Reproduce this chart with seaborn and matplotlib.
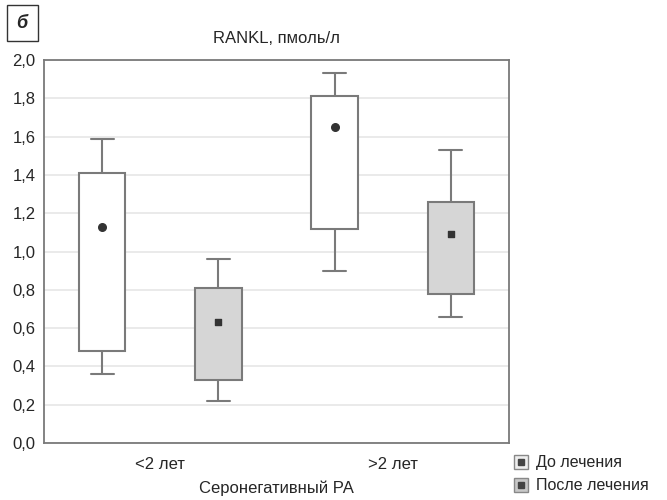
import matplotlib
matplotlib.use("Agg")
import matplotlib.pyplot as plt
import seaborn as sns
import numpy as np
import pandas as pd
from matplotlib.lines import Line2D

# values (pmol/l)
groups = ["<2 лет", ">2 лет"]
treatments = ["До лечения", "После лечения"]
whisker_low = {"До лечения": [0.36, 0.90], "После лечения": [0.22, 0.66]}
box_low = {"До лечения": [0.48, 1.12], "После лечения": [0.33, 0.78]}
center = {"До лечения": [1.13, 1.65], "После лечения": [0.63, 1.09]}
box_high = {"До лечения": [1.41, 1.81], "После лечения": [0.81, 1.26]}
whisker_high = {"До лечения": [1.59, 1.93], "После лечения": [0.96, 1.53]}
y_ticks = [0.0, 0.2, 0.4, 0.6, 0.8, 1.0, 1.2, 1.4, 1.6, 1.8, 2.0]
y_ticklabels = ["0,0", "0,2", "0,4", "0,6", "0,8", "1,0", "1,2", "1,4", "1,6", "1,8", "2,0"]

# 5 points per box -> quartiles / median / min / max reproduce the summary
rows = []
for t in treatments:
    for i, g in enumerate(groups):
        for v in (whisker_low[t][i], box_low[t][i], center[t][i], box_high[t][i], whisker_high[t][i]):
            rows.append({"group": g, "treatment": t, "value": v})
df = pd.DataFrame(rows)

sns.set_style("white")
plt.rcParams["font.family"] = ["Liberation Sans", "DejaVu Sans"]

fig = plt.figure(figsize=(6.67, 5), dpi=100)
ax = fig.add_axes([0.066, 0.114, 0.697, 0.766])

edge = "#7a7a7a"
sns.boxplot(data=df, x="group", y="value", hue="treatment", order=groups, hue_order=treatments,
            palette={"До лечения": "white", "После лечения": "#d6d6d6"},
            whis=(0, 100), width=1.0, gap=0.6, linecolor=edge, linewidth=1.5,
            medianprops={"visible": False}, showfliers=False, legend=False, ax=ax, zorder=3)

# center points
for t, m in zip(treatments, ["o", "s"]):
    sub = df[df["treatment"] == t]
    off = -0.25 if t == treatments[0] else 0.25
    med = sub.groupby("group", sort=False)["value"].median().reindex(groups)
    ax.scatter(np.arange(len(groups)) + off, med.values, marker=m, s=30 if m == "o" else 22,
               color="#333333", zorder=5)

ax.set_xlim(-0.5, 1.5)
ax.set_ylim(0, 2.0)
ax.set_yticks(y_ticks)
ax.set_yticklabels(y_ticklabels, fontsize=12)
ax.tick_params(axis="x", labelsize=12, length=0, pad=10)
ax.tick_params(axis="y", length=0, pad=6)
ax.yaxis.grid(True, color="#e6e6e6", linewidth=1.2, zorder=0)
ax.set_axisbelow(True)
for s in ax.spines.values():
    s.set_color("#7a7a7a")
    s.set_linewidth(1.3)
ax.set_xlabel("Серонегативный РА", fontsize=12, labelpad=6)
ax.set_ylabel("")
ax.set_title("RANKL, пмоль/л", fontsize=12, pad=12)

# legend
handles = [
    (Line2D([], [], marker="s", ms=10, mfc="#eeeeee", mec="#888888", ls="none"),
     Line2D([], [], marker="s", ms=4, mfc="#444444", mec="#444444", ls="none")),
    (Line2D([], [], marker="s", ms=10, mfc="#c8c8c8", mec="#888888", ls="none"),
     Line2D([], [], marker="s", ms=4, mfc="#444444", mec="#444444", ls="none")),
]
fig.legend(handles, treatments, loc="lower left", bbox_to_anchor=(0.748, -0.015), frameon=False,
           fontsize=11.5, handlelength=1.0, handletextpad=0.4, labelspacing=0.5)

# panel label
fig.text(0.033, 0.954, "б", fontsize=13, fontweight="bold", fontstyle="italic",
         va="center", ha="center",
         bbox=dict(boxstyle="square,pad=0.55", facecolor="white", edgecolor="#333333", linewidth=1))

fig.savefig("out.png", dpi=100)
